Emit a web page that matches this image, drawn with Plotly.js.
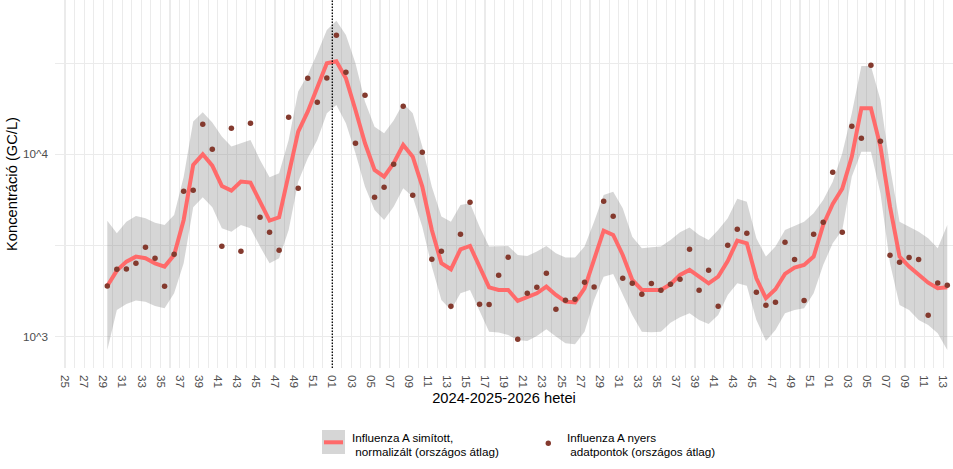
<!DOCTYPE html>
<html>
<head>
<meta charset="utf-8">
<script src="https://cdn.plot.ly/plotly-3.0.1.min.js"></script>
<style>
  html, body { margin: 0; padding: 0; background: #ffffff; }
  #chart { width: 953px; height: 469px; }
</style>
</head>
<body>
<div id="chart"></div>
<script>
// ISO weeks with a sample (one national average value per week)
const isoWeeks = [
  '2024-W29','2024-W30','2024-W31','2024-W32','2024-W33','2024-W34','2024-W35','2024-W36',
  '2024-W37','2024-W38','2024-W39','2024-W40','2024-W41','2024-W42','2024-W43','2024-W44',
  '2024-W45','2024-W46','2024-W47','2024-W48','2024-W49','2024-W50','2024-W51','2024-W52',
  '2025-W01','2025-W02','2025-W03','2025-W04','2025-W05','2025-W06','2025-W07','2025-W08',
  '2025-W09','2025-W10','2025-W11','2025-W12','2025-W13','2025-W14','2025-W15','2025-W16',
  '2025-W17','2025-W18','2025-W19','2025-W20','2025-W21','2025-W22','2025-W23','2025-W24',
  '2025-W25','2025-W26','2025-W27','2025-W28','2025-W29','2025-W30','2025-W31','2025-W32',
  '2025-W33','2025-W34','2025-W35','2025-W36','2025-W37','2025-W38','2025-W39','2025-W40',
  '2025-W41','2025-W42','2025-W43','2025-W44','2025-W45','2025-W46','2025-W47','2025-W48',
  '2025-W49','2025-W50','2025-W51','2025-W52',
  '2026-W01','2026-W02','2026-W03','2026-W04','2026-W05','2026-W06','2026-W07','2026-W08',
  '2026-W09','2026-W10','2026-W11','2026-W12','2026-W13'
];

// Raw national average concentrations (GC/L)
const rawValues = [
  1897, 2342, 2350, 2526, 3092, 2691, 1890, 2830, 6268, 6348,
  14610, 10650, 3130, 13890, 2939, 14790, 4514, 3736, 2976, 15960,
  6512, 26100, 19280, 26200, 44920, 28150, 11490, 21060, 5811, 6593,
  8815, 18330, 5960, 10260, 2656, 2940, 1468, 3642, 5454, 1506,
  1500, 2171, 2725, 968, 1729, 1865, 2227, 1413, 1584, 1603,
  1987, 1870, 5524, 4572, 2090, 1963, 1708, 1960, 1796, 1938,
  2064, 3014, 1800, 2312, 1470, 3170, 3879, 3689, 1751, 1486,
  1544, 3292, 2650, 1580, 3640, 4238, 7966, 3740, 14240, 12240,
  30750, 11780, 2795, 2558, 2720, 2650, 1310, 1970, 1913
];

// Smoothed, normalised national average (GC/L)
const smoothedValues = [
  1897, 2302, 2579, 2748, 2691, 2526, 2422, 2806, 4365, 8740,
  10000, 8667, 6706, 6322, 7082, 6994, 5501, 4328, 4514, 7544,
  13310, 17130, 23300, 31540, 32350, 26100, 17500, 11490, 8206, 7544,
  8928, 11250, 9710, 6649, 3847, 2526, 2342, 3014, 3143, 2422,
  1865, 1804, 1804, 1570, 1638, 1729, 1881, 1694, 1557, 1543,
  1842, 2634, 3815, 3612, 2806, 2046, 1804, 1804, 1804, 1938,
  2180, 2322, 2134, 1963, 2134, 2601, 3363, 3252, 2090, 1624,
  1819, 2208, 2392, 2474, 2748, 4098, 5341, 6485, 9710, 17870,
  17870, 11020, 5165, 2748, 2422, 2180, 1977, 1842, 1865
];

// Uncertainty band around the smoothed curve
const bandLower = [
  846, 1401, 1512, 1577, 1557, 1474, 1431, 1729, 2526, 5121,
  5811, 5121, 3929, 3767, 4098, 3929, 3118, 2526, 2691, 3847,
  7082, 9508, 11980, 16780, 18640, 14790, 10130, 6649, 4951, 4365,
  5165, 6512, 5860, 4012, 2422, 1590, 1401, 1729, 1804, 1372,
  1066, 1053, 1022, 960, 948, 1009, 1098, 1001, 920, 908,
  1066, 1590, 2134, 2208, 1694, 1316, 1066, 1058, 1066, 1194,
  1278, 1344, 1235, 1174, 1316, 1694, 1963, 1905, 1235, 948,
  1089, 1344, 1401, 1431, 1729, 2474, 3252, 3847, 7544, 10340,
  10340, 6114, 2526, 1493, 1401, 1235, 1160, 1044, 846
];
const bandUpper = [
  4328, 3689, 4274, 4591, 4458, 4220, 4098, 4650, 7500, 15110,
  16990, 14920, 12500, 11020, 11490, 11980, 9309, 7480, 7866, 11980,
  22060, 27220, 35780, 48050, 54050, 45110, 31540, 19440, 14180, 13040,
  15300, 19040, 16780, 11020, 6649, 4553, 4274, 5274, 5387, 4012,
  3118, 3118, 3140, 2806, 2771, 2927, 3143, 2866, 2714, 2714,
  3118, 4274, 5984, 6242, 5056, 3537, 3052, 3092, 3118, 3391,
  3736, 3963, 3612, 3391, 3847, 4458, 5714, 5501, 3463, 2748,
  3118, 3847, 4046, 4274, 4748, 5619, 7082, 10130, 16780, 30500,
  30500, 19860, 8558, 4274, 4012, 3767, 3463, 3052, 4098
];

// Axis labels and legend text
const yTickValues = [1000, 3162.28, 10000, 31622.8];
const yTickLabels = ['10^3', '', '10^4', ''];
const xTitle = '2024-2025-2026 hetei';
const yTitle = 'Koncentráció (GC/L)';
const smoothLabel = ['Influenza A simított,', '\u00A0normalizált (országos átlag)'];
const rawLabel = ['Influenza A nyers', '\u00A0adatpontok (országos átlag)'];
const markerWeek = '2025-W01';

const DAY = 86400000;
function isoWeekMonday(label) {
  const parts = label.split('-W');
  const y = Number(parts[0]), w = Number(parts[1]);
  const jan4 = Date.UTC(y, 0, 4);
  const dow = (new Date(jan4).getUTCDay() + 6) % 7;
  return jan4 - dow * DAY + (w - 1) * 7 * DAY;
}
function dateStr(ms) {
  return new Date(ms).toISOString().replace('T', ' ').slice(0, 19);
}
// samples are plotted at the Thursday of their ISO week
const sampleDates = isoWeeks.map(function (wk) { return dateStr(isoWeekMonday(wk) + 3 * DAY); });

const FONT = '"Liberation Sans", Arial, Helvetica, sans-serif';
const W = 953, H = 469;
const plotLeft = 55, plotRight = 953, plotTop = 0, plotBottom = 368;
const plotW = plotRight - plotLeft, plotH = plotBottom - plotTop;
const px = function (x) { return (x - plotLeft) / plotW; };
const py = function (y) { return (plotBottom - y) / plotH; };

const bandFill = 'rgba(128,128,128,0.32)';
const lineColor = '#FF6A6A';
const pointColor = '#843A2E';

const traces = [
  { x: sampleDates, y: bandLower, type: 'scatter', mode: 'lines',
    line: { width: 0, color: 'rgba(0,0,0,0)' }, hoverinfo: 'skip', showlegend: false },
  { x: sampleDates, y: bandUpper, type: 'scatter', mode: 'lines', fill: 'tonexty',
    fillcolor: bandFill, line: { width: 0, color: 'rgba(0,0,0,0)' }, hoverinfo: 'skip', showlegend: false },
  { x: sampleDates, y: smoothedValues, type: 'scatter', mode: 'lines',
    line: { color: lineColor, width: 4, shape: 'linear' }, name: smoothLabel.join(' '), showlegend: false },
  { x: sampleDates, y: rawValues, type: 'scatter', mode: 'markers',
    marker: { color: pointColor, size: 5.5, line: { width: 0 } }, name: rawLabel.join(' '), showlegend: false }
];

const legendFont = { family: FONT, size: 11.7, color: '#000000' };
function legendText(x, y, text) {
  return { xref: 'paper', yref: 'paper', x: px(x), y: py(y), text: text, showarrow: false,
           xanchor: 'left', yanchor: 'middle', font: legendFont, borderpad: 0 };
}

const layout = {
  width: W, height: H,
  margin: { l: plotLeft, r: W - plotRight, t: plotTop, b: H - plotBottom, pad: 0 },
  paper_bgcolor: '#ffffff', plot_bgcolor: '#ffffff',
  font: { family: FONT, size: 11.7, color: '#4D4D4D' },
  showlegend: false,
  xaxis: {
    type: 'date',
    range: [dateStr(isoWeekMonday('2024-W24') - 0.35 * DAY), dateStr(isoWeekMonday('2026-W14') + 0.2 * DAY)],
    tickmode: 'linear',
    tick0: dateStr(isoWeekMonday('2024-W25')),
    dtick: 14 * DAY,
    tickformat: '%V',
    tickangle: 90,
    ticks: '',
    ticklabelstandoff: 6,
    tickfont: { family: FONT, size: 11.7, color: '#4D4D4D' },
    showgrid: true, gridcolor: '#EBEBEB', gridwidth: 1.1,
    minor: { tick0: dateStr(isoWeekMonday('2024-W25')), dtick: 7 * DAY, showgrid: true,
             gridcolor: '#EBEBEB', gridwidth: 1.1, ticks: '' },
    showline: false, zeroline: false, automargin: false, fixedrange: true,
    title: { text: xTitle, font: { family: FONT, size: 14.7, color: '#000000' }, standoff: 5 }
  },
  yaxis: {
    type: 'log',
    range: [2.8284, 4.8459],
    tickmode: 'array', tickvals: yTickValues, ticktext: yTickLabels,
    ticks: '',
    ticklabelstandoff: 6,
    tickfont: { family: FONT, size: 11.7, color: '#4D4D4D' },
    showgrid: true, gridcolor: '#EBEBEB', gridwidth: 1.1,
    showline: false, zeroline: false, automargin: false, fixedrange: true,
    title: { text: yTitle, font: { family: FONT, size: 14.7, color: '#000000' }, standoff: 1 }
  },
  shapes: [
    { type: 'line', xref: 'x', yref: 'paper',
      x0: dateStr(isoWeekMonday(markerWeek)), x1: dateStr(isoWeekMonday(markerWeek)), y0: 0, y1: 1,
      line: { color: '#000000', width: 1.3, dash: '1.5px,1.5px' }, layer: 'above' },
    // legend keys
    { type: 'rect', xref: 'paper', yref: 'paper', x0: px(322), x1: px(345), y0: py(454), y1: py(430),
      fillcolor: bandFill, line: { width: 0 } },
    { type: 'line', xref: 'paper', yref: 'paper', x0: px(324), x1: px(343), y0: py(442.3), y1: py(442.3),
      line: { color: lineColor, width: 4 } },
    { type: 'circle', xref: 'paper', yref: 'paper', x0: px(545.6), x1: px(551), y0: py(446), y1: py(440.6),
      fillcolor: pointColor, line: { width: 0 } }
  ],
  annotations: [
    legendText(351, 437.5, smoothLabel[0]),
    legendText(351, 451.3, smoothLabel[1]),
    legendText(566, 437.5, rawLabel[0]),
    legendText(566, 451.3, rawLabel[1])
  ]
};

Plotly.newPlot('chart', traces, layout, { staticPlot: true, displayModeBar: false });
</script>
</body>
</html>
